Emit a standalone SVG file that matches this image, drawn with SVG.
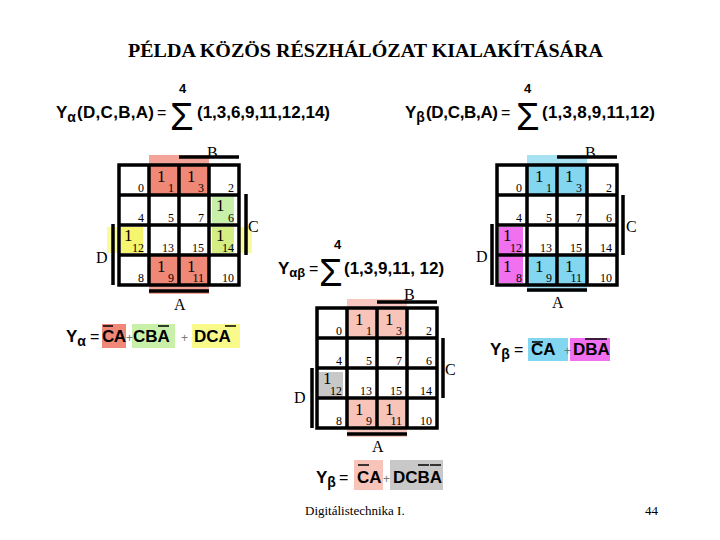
<svg xmlns="http://www.w3.org/2000/svg" width="720" height="540" viewBox="0 0 720 540">
<style>
.title{font-family:"Liberation Serif","Times New Roman",serif;font-weight:bold;font-size:18px;fill:#000}
.f{font-family:"Liberation Sans",Arial,sans-serif;font-weight:bold;font-size:17px;fill:#000}
.fs{font-family:"Liberation Sans",Arial,sans-serif;font-weight:bold;font-size:13px;fill:#000}
.eq{font-family:"Liberation Sans",Arial,sans-serif;font-size:16px;fill:#000}
.pl{font-family:"Liberation Sans",Arial,sans-serif;font-size:12px;fill:#777}
.sig{font-family:"Liberation Sans",Arial,sans-serif;font-size:38px;fill:#000}
.idx{font-family:"Liberation Serif","Times New Roman",serif;font-size:12px;fill:#000;text-anchor:end}
.one{font-family:"Liberation Serif","Times New Roman",serif;font-size:17px;fill:#000}
.lab{font-family:"Liberation Serif","Times New Roman",serif;font-size:16px;fill:#000}
.foot{font-family:"Liberation Serif","Times New Roman",serif;font-size:13px;fill:#000}
.grid{fill:none;stroke:#000;stroke-width:3.5}
.bar{stroke:#000;stroke-width:3.5}
.ol{stroke:#000;stroke-width:1.5}
</style>
<rect width="720" height="540" fill="#fff"/>
<text class="title" x="128" y="57" textLength="475" lengthAdjust="spacingAndGlyphs">PÉLDA KÖZÖS RÉSZHÁLÓZAT KIALAKÍTÁSÁRA</text>

<g id="formula-alpha">
<text class="f" x="56" y="118">Y<tspan font-size="14" dy="4">α</tspan><tspan dy="-4" x="77" textLength="77">(D,C,B,A)</tspan></text>
<text class="eq" x="157" y="118">=</text>
<text class="sig" x="170" y="130">Σ</text>
<text class="fs" x="179" y="93">4</text>
<text class="f" x="197" y="118" textLength="133">(1,3,6,9,11,12,14)</text>
</g>
<g id="formula-beta">
<text class="f" x="405" y="118">Y<tspan font-size="14" dy="4">β</tspan><tspan dy="-4" x="426" textLength="72">(D,C,B,A)</tspan></text>
<text class="eq" x="501" y="118">=</text>
<text class="sig" x="516" y="130">Σ</text>
<text class="fs" x="524" y="93">4</text>
<text class="f" x="542" y="118" textLength="113">(1,3,8,9,11,12)</text>
</g>
<g id="formula-alphabeta">
<text class="f" x="278" y="274">Y<tspan font-size="13" dy="3">αβ</tspan></text>
<text class="eq" x="309" y="274">=</text>
<text class="sig" x="319" y="286" font-size="36">Σ</text>
<text class="fs" x="334" y="249">4</text>
<text class="f" x="344" y="274" font-size="14">(1,3,9,11, 12)</text>
</g>

<!-- Left map -->
<g id="map-alpha">
<rect x="149" y="155" width="60" height="10" fill="#F4A398"/>
<rect x="149" y="165" width="60" height="30" fill="#F08878"/>
<rect x="149" y="255" width="60" height="30" fill="#F08878"/>
<rect x="149" y="285" width="60" height="9" fill="#F4A398"/>
<rect x="107" y="227" width="12" height="26" fill="#FAFA9E"/>
<rect x="121" y="227" width="22" height="26" fill="#F5F56E"/>
<rect x="239" y="227" width="13" height="26" fill="#FAFA9E"/>
<rect x="212" y="227" width="22" height="26" fill="#D4EE84"/>
<rect x="212" y="197" width="22" height="26" fill="#C8F0A8"/>
<path class="grid" d="M119 165H239V285H119Z M149 165V285 M179 165V285 M209 165V285 M119 195H239 M119 225H239 M119 255H239"/>
<line class="bar" x1="179" y1="157" x2="239" y2="157"/>
<line class="bar" x1="149" y1="291" x2="209" y2="291"/>
<line class="bar" x1="113" y1="224" x2="113" y2="285"/>
<line class="bar" x1="246" y1="194" x2="246" y2="255"/>
<text class="lab" x="207" y="158">B</text>
<text class="lab" x="174" y="310">A</text>
<text class="lab" x="96" y="263">D</text>
<text class="lab" x="248" y="232">C</text>
<text class="idx" x="144" y="192">0</text><text class="idx" x="174" y="192">1</text><text class="idx" x="204" y="192">3</text><text class="idx" x="234" y="192">2</text>
<text class="idx" x="144" y="222">4</text><text class="idx" x="174" y="222">5</text><text class="idx" x="204" y="222">7</text><text class="idx" x="234" y="222">6</text>
<text class="idx" x="144" y="252">12</text><text class="idx" x="174" y="252">13</text><text class="idx" x="204" y="252">15</text><text class="idx" x="234" y="252">14</text>
<text class="idx" x="144" y="282">8</text><text class="idx" x="174" y="282">9</text><text class="idx" x="204" y="282">11</text><text class="idx" x="234" y="282">10</text>
<text class="one" x="157" y="182">1</text><text class="one" x="187" y="182">1</text>
<text class="one" x="216" y="211">1</text>
<text class="one" x="124" y="241">1</text><text class="one" x="216" y="241">1</text>
<text class="one" x="157" y="272">1</text><text class="one" x="187" y="272">1</text>
</g>

<!-- Right map -->
<g id="map-beta">
<rect x="527" y="155" width="60" height="10" fill="#A6E2F2"/>
<rect x="527" y="165" width="60" height="30" fill="#82D6F0"/>
<rect x="527" y="255" width="60" height="30" fill="#82D6F0"/>
<rect x="527" y="285" width="60" height="7" fill="#A6E2F2"/>
<rect x="499" y="227" width="24" height="56" fill="#F070F0"/>
<path class="grid" d="M497 165H617V285H497Z M527 165V285 M557 165V285 M587 165V285 M497 195H617 M497 225H617 M497 255H617"/>
<line class="bar" x1="557" y1="157" x2="617" y2="157"/>
<line class="bar" x1="527" y1="290" x2="587" y2="290"/>
<line class="bar" x1="492" y1="224" x2="492" y2="285"/>
<line class="bar" x1="623" y1="195" x2="623" y2="255"/>
<text class="lab" x="585" y="158">B</text>
<text class="lab" x="552" y="308">A</text>
<text class="lab" x="476" y="262">D</text>
<text class="lab" x="626" y="232">C</text>
<text class="idx" x="522" y="192">0</text><text class="idx" x="552" y="192">1</text><text class="idx" x="582" y="192">3</text><text class="idx" x="612" y="192">2</text>
<text class="idx" x="522" y="222">4</text><text class="idx" x="552" y="222">5</text><text class="idx" x="582" y="222">7</text><text class="idx" x="612" y="222">6</text>
<text class="idx" x="522" y="252">12</text><text class="idx" x="552" y="252">13</text><text class="idx" x="582" y="252">15</text><text class="idx" x="612" y="252">14</text>
<text class="idx" x="522" y="282">8</text><text class="idx" x="552" y="282">9</text><text class="idx" x="582" y="282">11</text><text class="idx" x="612" y="282">10</text>
<text class="one" x="535" y="182">1</text><text class="one" x="565" y="182">1</text>
<text class="one" x="503" y="241">1</text>
<text class="one" x="503" y="272">1</text><text class="one" x="535" y="272">1</text><text class="one" x="565" y="272">1</text>
</g>

<!-- Middle map -->
<g id="map-alphabeta">
<rect x="347" y="299" width="60" height="9" fill="#F8C8C0"/>
<rect x="347" y="308" width="60" height="30" fill="#F8C4BA"/>
<rect x="347" y="398" width="60" height="30" fill="#F8C4BA"/>
<rect x="347" y="428" width="60" height="9" fill="#F8C8C0"/>
<rect x="319" y="372" width="24" height="25" fill="#C8C8C8"/>
<path class="grid" d="M317 308H437V428H317Z M347 308V428 M377 308V428 M407 308V428 M317 338H437 M317 368H437 M317 398H437"/>
<line class="bar" x1="377" y1="302" x2="437" y2="302"/>
<line class="bar" x1="347" y1="434" x2="407" y2="434"/>
<line class="bar" x1="312" y1="368" x2="312" y2="428"/>
<line class="bar" x1="443" y1="338" x2="443" y2="398"/>
<text class="lab" x="404" y="300">B</text>
<text class="lab" x="372" y="452">A</text>
<text class="lab" x="294" y="403">D</text>
<text class="lab" x="445" y="375">C</text>
<text class="idx" x="342" y="335">0</text><text class="idx" x="372" y="335">1</text><text class="idx" x="402" y="335">3</text><text class="idx" x="432" y="335">2</text>
<text class="idx" x="342" y="365">4</text><text class="idx" x="372" y="365">5</text><text class="idx" x="402" y="365">7</text><text class="idx" x="432" y="365">6</text>
<text class="idx" x="342" y="395">12</text><text class="idx" x="372" y="395">13</text><text class="idx" x="402" y="395">15</text><text class="idx" x="432" y="395">14</text>
<text class="idx" x="342" y="425">8</text><text class="idx" x="372" y="425">9</text><text class="idx" x="402" y="425">11</text><text class="idx" x="432" y="425">10</text>
<text class="one" x="355" y="325">1</text><text class="one" x="385" y="325">1</text>
<text class="one" x="323" y="384">1</text>
<text class="one" x="355" y="415">1</text><text class="one" x="385" y="415">1</text>
</g>

<!-- Result alpha -->
<g id="result-alpha">
<text class="f" x="66" y="342">Y<tspan font-size="14" dy="4">α</tspan></text>
<text class="eq" x="90" y="342">=</text>
<rect x="102" y="324" width="24" height="24" fill="#F08878"/>
<rect x="132" y="324" width="43" height="24" fill="#C8F0A8"/>
<rect x="192" y="324" width="48" height="24" fill="#FAFA8A"/>
<text class="f" x="102" y="342" textLength="24">CA</text>
<line class="ol" x1="103" y1="326" x2="113" y2="326"/>
<text class="pl" x="126" y="342">+</text>
<text class="f" x="133" y="342">CBA</text>
<line class="ol" x1="158" y1="326" x2="169" y2="326"/>
<text class="pl" x="181" y="342">+</text>
<text class="f" x="194" y="342">DCA</text>
<line class="ol" x1="225" y1="326" x2="236" y2="326"/>
</g>

<!-- Result beta -->
<g id="result-beta">
<text class="f" x="490" y="355">Y<tspan font-size="14" dy="4">β</tspan></text>
<text class="eq" x="514" y="355">=</text>
<rect x="528" y="338" width="40" height="23" fill="#82D6F0"/>
<rect x="570" y="338" width="40" height="23" fill="#F070F0"/>
<text class="f" x="531" y="355">CA</text>
<line class="ol" x1="532" y1="342" x2="543" y2="342"/>
<text class="pl" x="564" y="355">+</text>
<text class="f" x="573" y="355">DBA</text>
<line class="ol" x1="585" y1="339" x2="607" y2="339"/>
</g>

<!-- Result alphabeta -->
<g id="result-alphabeta">
<text class="f" x="316" y="483">Y<tspan font-size="14" dy="4">β</tspan></text>
<text class="eq" x="339" y="483">=</text>
<rect x="354" y="460" width="29" height="30" fill="#F8C4BA"/>
<rect x="390" y="460" width="53" height="30" fill="#C8C8C8"/>
<text class="f" x="357" y="483">CA</text>
<line class="ol" x1="358" y1="465" x2="369" y2="465"/>
<text class="pl" x="383" y="483">+</text>
<text class="f" x="393" y="483">DCBA</text>
<line class="ol" x1="418" y1="465" x2="429" y2="465"/>
<line class="ol" x1="430" y1="465" x2="441" y2="465"/>
</g>

<text class="foot" x="305" y="515">Digitálistechnika I.</text>
<text class="foot" x="645" y="515">44</text>
</svg>
